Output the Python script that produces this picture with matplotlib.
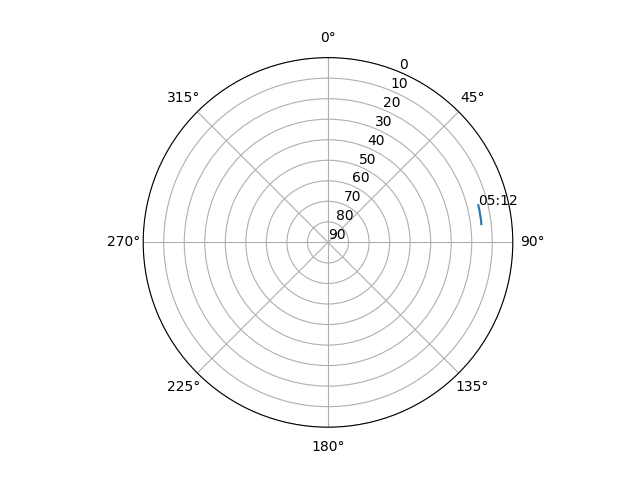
import numpy as np
import matplotlib
matplotlib.use('Agg')
import matplotlib.pyplot as plt

# satellite track (azimuth deg, elevation deg)
azimuth = [76.1, 78.0, 80.0, 82.0, 83.2]
elevation = [14.6, 14.6, 14.7, 14.7, 14.8]
label = "05:12"

fig = plt.figure(figsize=(6.4, 4.8), dpi=100)
ax = fig.add_subplot(projection='polar')
ax.set_theta_zero_location('N')
ax.set_theta_direction(-1)

ax.plot(np.radians(azimuth), elevation)
ax.text(np.radians(azimuth[0]), elevation[0], label)

ax.set_rlim(90, 0)
ax.set_rticks(range(0, 91, 10))

fig.savefig('out.png')
